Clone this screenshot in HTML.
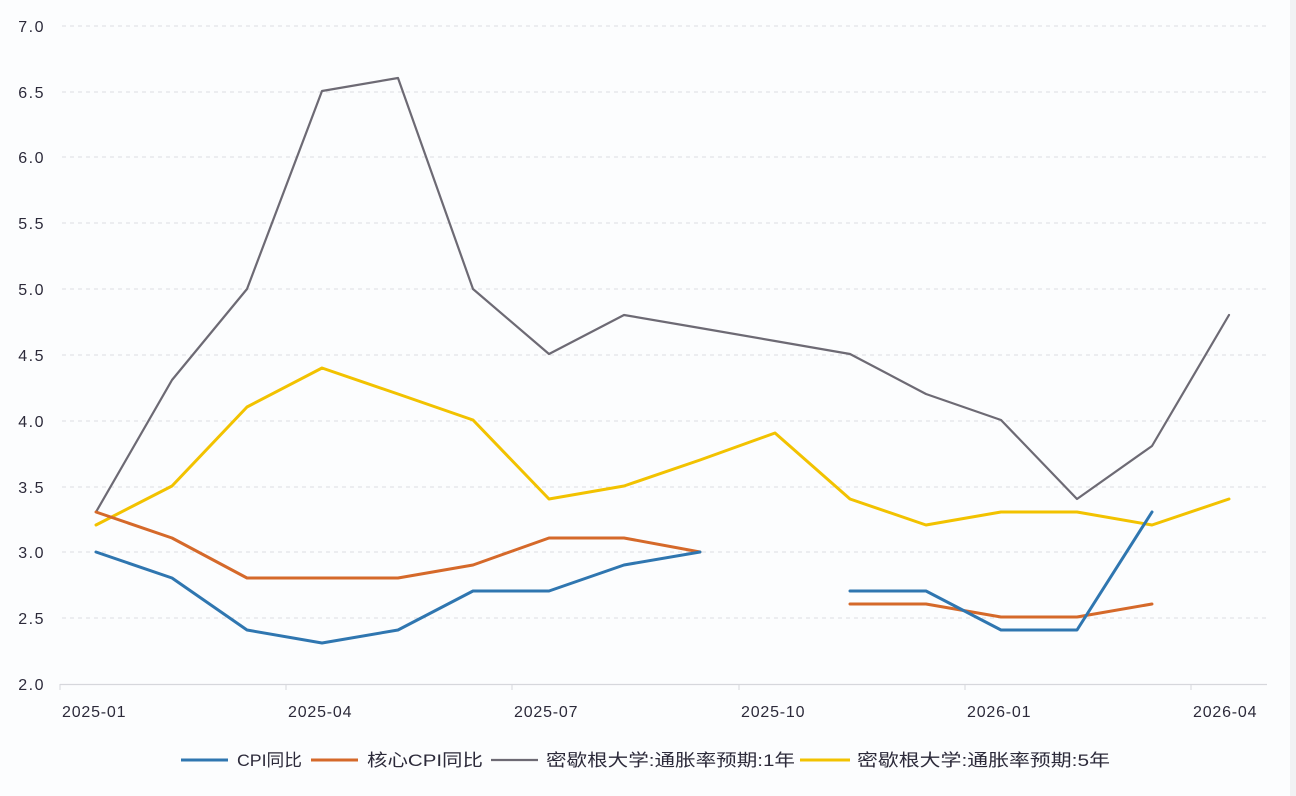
<!DOCTYPE html>
<html><head><meta charset="utf-8"><style>
html,body{margin:0;padding:0;background:#fcfdfe;}
svg{display:block;}
text{font-family:"Liberation Sans","Noto Sans CJK SC",sans-serif;fill:#2c2a3a;}
</style></head><body>
<svg width="1296" height="796" viewBox="0 0 1296 796" xmlns="http://www.w3.org/2000/svg">
<rect width="1296" height="796" fill="#fcfdfe"/>
<rect x="1290" y="0" width="6" height="796" fill="#f1f2f4"/>
<g stroke="#dcdde2" stroke-width="1" stroke-dasharray="4,4">
<line x1="62" y1="26" x2="1267" y2="26"/>
<line x1="62" y1="92" x2="1267" y2="92"/>
<line x1="62" y1="157" x2="1267" y2="157"/>
<line x1="62" y1="223" x2="1267" y2="223"/>
<line x1="62" y1="289" x2="1267" y2="289"/>
<line x1="62" y1="355" x2="1267" y2="355"/>
<line x1="62" y1="421" x2="1267" y2="421"/>
<line x1="62" y1="487" x2="1267" y2="487"/>
<line x1="62" y1="552" x2="1267" y2="552"/>
<line x1="62" y1="618" x2="1267" y2="618"/>
</g>
<line x1="60" y1="684.5" x2="1267" y2="684.5" stroke="#d6d7dc" stroke-width="1.2"/>
<g stroke="#d6d7dc" stroke-width="1">
<line x1="60" y1="684" x2="60" y2="690"/>
<line x1="286" y1="684" x2="286" y2="690"/>
<line x1="512" y1="684" x2="512" y2="690"/>
<line x1="739" y1="684" x2="739" y2="690"/>
<line x1="965" y1="684" x2="965" y2="690"/>
<line x1="1191" y1="684" x2="1191" y2="690"/>
</g>
<g font-size="16" text-anchor="end" letter-spacing="1.5">
<text x="45" y="32">7.0</text>
<text x="45" y="98">6.5</text>
<text x="45" y="163">6.0</text>
<text x="45" y="229">5.5</text>
<text x="45" y="295">5.0</text>
<text x="45" y="361">4.5</text>
<text x="45" y="427">4.0</text>
<text x="45" y="493">3.5</text>
<text x="45" y="558">3.0</text>
<text x="45" y="624">2.5</text>
<text x="45" y="690">2.0</text>
</g>
<g font-size="16" letter-spacing="0.8">
<text x="62" y="717">2025-01</text>
<text x="288" y="717">2025-04</text>
<text x="514" y="717">2025-07</text>
<text x="741" y="717">2025-10</text>
<text x="967" y="717">2026-01</text>
<text x="1193" y="717">2026-04</text>
</g>
<g fill="none" stroke-linejoin="round" stroke-linecap="round">
<!-- gray 1yr -->
<polyline stroke="#6d6a74" stroke-width="2.2" points="96,512 172,380 247,289 322,91 398,78 473,289 549,354 624,315 700,328 775,341 850,354 926,394 1001,420 1077,499 1152,446 1229,315"/>
<!-- yellow 5yr -->
<polyline stroke="#f2c200" stroke-width="3" points="96,525 172,486 247,407 322,368 398,394 473,420 549,499 624,486 700,460 775,433 850,499 926,525 1001,512 1077,512 1152,525 1229,499"/>
<!-- orange core -->
<polyline stroke="#d5692a" stroke-width="3" points="96,512 172,538 247,578 322,578 398,578 473,565 549,538 624,538 700,552"/>
<polyline stroke="#d5692a" stroke-width="3" points="850,604 926,604 1001,617 1077,617 1152,604"/>
<!-- blue cpi -->
<polyline stroke="#2f76b0" stroke-width="3" points="96,552 172,578 247,630 322,643 398,630 473,591 549,591 624,565 700,552"/>
<polyline stroke="#2f76b0" stroke-width="3" points="850,591 926,591 1001,630 1077,630 1152,512"/>
</g>
<g stroke-width="3">
<line x1="181" y1="760" x2="228" y2="760" stroke="#2f76b0"/>
<line x1="311" y1="760" x2="358" y2="760" stroke="#d5692a"/>
<line x1="491" y1="760" x2="538" y2="760" stroke="#6d6a74" stroke-width="2.2"/>
<line x1="800" y1="760" x2="850" y2="760" stroke="#f2c200"/>
</g>
<g font-size="17" fill="#333">
<text x="237" y="766" textLength="65" lengthAdjust="spacingAndGlyphs">CPI同比</text>
<text x="367" y="766" textLength="116" lengthAdjust="spacingAndGlyphs">核心CPI同比</text>
<text x="546" y="766" textLength="249" lengthAdjust="spacingAndGlyphs">密歇根大学:通胀率预期:1年</text>
<text x="857" y="766" textLength="253" lengthAdjust="spacingAndGlyphs">密歇根大学:通胀率预期:5年</text>
</g>
</svg>
</body></html>
